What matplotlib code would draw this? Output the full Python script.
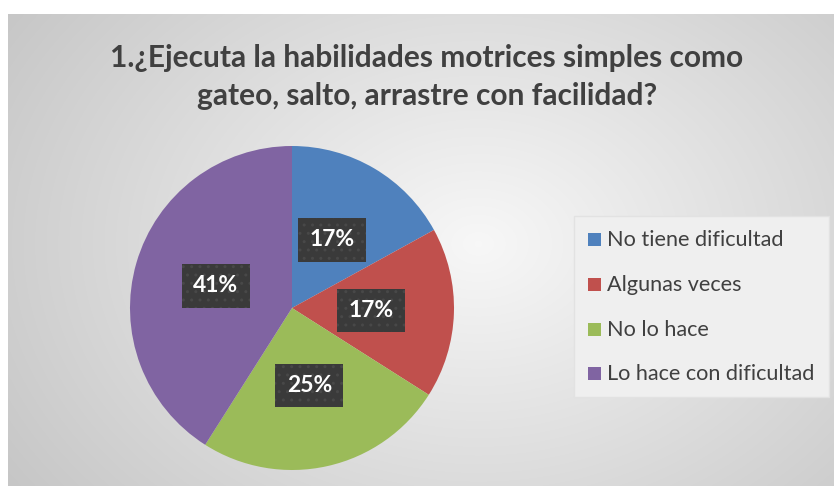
"""
Pie chart: habilidades motrices simples (gateo, salto, arrastre).
"""
import numpy as np
import matplotlib.pyplot as plt
from matplotlib.patches import Rectangle

TITLE = "1.¿Ejecuta la habilidades motrices simples como\ngateo, salto, arrastre con facilidad?"
CATEGORIES = ["No tiene dificultad", "Algunas veces", "No lo hace",
              "Lo hace con dificultad"]
PERCENTS = [17, 17, 25, 41]
COLORS = ["#4F81BD", "#C0504D", "#9BBB59", "#8064A2"]

W, H = 834, 486
FONT = ["Lato", "DejaVu Sans"]
TEXT_COLOR = "#404040"

fig = plt.figure(figsize=(W / 100, H / 100), dpi=100, facecolor="white")

# chart area background: radial grey gradient
bg = fig.add_axes([8 / W, 0, (W - 8) / W, (H - 14) / H])
yy, xx = np.mgrid[0:H - 14, 0:W - 8]
cx, cy = 470, 230
dist = np.hypot((xx - cx) / 560, (yy - cy) / 420)
shade = 0.97 - 0.19 * np.clip(dist, 0, 1)
bg.imshow(np.dstack([shade] * 3), aspect="auto", interpolation="bilinear")
bg.set_axis_off()

fig.text(427 / W, 1 - 77 / H, TITLE, ha="center", va="center",
         fontsize=21.5, fontweight="bold", color=TEXT_COLOR, family=FONT,
         linespacing=1.4)

# pie
r = 162
px, py = 292, 308
ax = fig.add_axes([(px - r) / W, 1 - (py + r) / H, 2 * r / W, 2 * r / H])
wedges, _, autotexts = ax.pie(
    PERCENTS, colors=COLORS, startangle=90, counterclock=False,
    autopct=lambda p: "{:.0f}%".format(p), pctdistance=0.49,
    wedgeprops=dict(linewidth=0),
    textprops=dict(color="white", fontsize=16.5, fontweight="bold",
                   family=FONT))
for t in autotexts:
    t.set_bbox(dict(boxstyle="square,pad=0.5", facecolor="#3a3a3a",
                    edgecolor="#484848", linewidth=0, hatch=".."))
ax.set_xlim(-1, 1)
ax.set_ylim(-1, 1)
ax.set_aspect("equal")

# legend box
lg = fig.add_axes([0, 0, 1, 1], facecolor="none")
lg.set_xlim(0, W)
lg.set_ylim(H, 0)
lg.set_axis_off()
lg.add_patch(Rectangle((574, 216), 255, 181, facecolor="#efefef",
                       edgecolor="#e2e2e2", linewidth=1))
for i, (name, col) in enumerate(zip(CATEGORIES, COLORS)):
    y = 240 + i * 44.8
    lg.add_patch(Rectangle((588, y - 7), 13, 13, facecolor=col,
                           edgecolor="none"))
    lg.text(607, y, name, va="center", ha="left", fontsize=15.6,
            color=TEXT_COLOR, family=FONT)

fig.savefig("out.png", dpi=100, facecolor="white")
